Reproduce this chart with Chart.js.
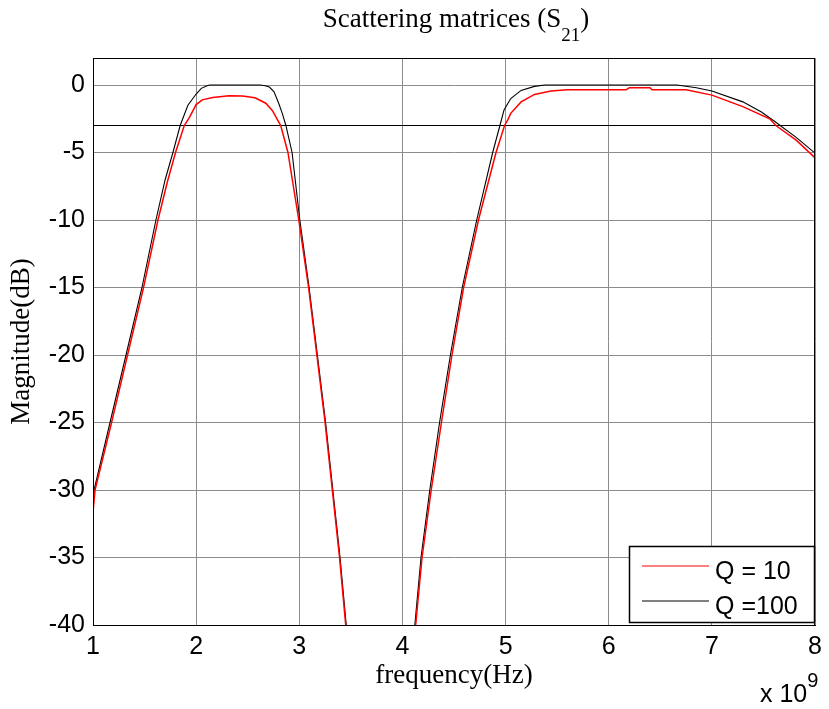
<!DOCTYPE html>
<html><head><meta charset="utf-8">
<script src="https://cdn.jsdelivr.net/npm/chart.js@4.4.0/dist/chart.umd.min.js"></script>
<style>
html,body{margin:0;padding:0;background:#fff;}
#wrap{position:relative;width:829px;height:709px;overflow:hidden;}
canvas{position:absolute;left:0;top:0;}
#title{position:absolute;left:0;width:912px;top:3px;text-align:center;font-family:"Liberation Serif","Times New Roman",serif;font-size:27px;line-height:30px;color:#000;white-space:nowrap;}
#title .sub{font-size:19px;position:relative;top:14px;}
#expo{position:absolute;left:760px;top:679px;font-family:"Liberation Sans",Arial,sans-serif;font-size:25px;line-height:28px;color:#000;white-space:nowrap;}
#expo .sup{font-size:20px;position:relative;top:-15px;}
</style></head>
<body><div id="wrap"><canvas id="c" width="829" height="709"></canvas>
<div id="title">Scattering matrices (S<span class="sub">21</span>)</div>
<div id="expo">x 10<span class="sup">9</span></div></div>
<script>
// ---- data (frequency in units of 1e9 Hz, magnitude in dB) ----
const xTicks = [1, 2, 3, 4, 5, 6, 7, 8];
const yTicks = [-40, -35, -30, -25, -20, -15, -10, -5, 0];
const xRange = [1, 8];
const yRange = [-40, 2];
const refLevel = -3;

const labels = ['Q = 10', 'Q =100'];
const colors = ['#ff0000', '#000000'];

const q10Freq = [1.00, 1.02, 1.18, 1.335, 1.49, 1.63, 1.72, 1.80, 1.885, 1.935, 2.00, 2.06, 2.16, 2.32, 2.45, 2.57, 2.675, 2.74, 2.79, 2.82, 2.89, 2.995, 3.09, 3.17, 3.25, 3.32, 3.39, 3.45, 3.50,
  3.80,
  4.07, 4.128, 4.19, 4.279, 4.378, 4.48, 4.593, 4.737, 4.907, 4.99, 5.02, 5.05, 5.15, 5.28, 5.44, 5.60, 6.17, 6.20, 6.40, 6.42, 6.75, 7.00, 7.30, 7.56, 7.62, 7.82, 8.00];
const q10Mag = [-31.6, -30, -25, -20, -15, -10, -7.2, -5, -3, -2.4, -1.45, -1.1, -0.92, -0.8, -0.82, -0.95, -1.35, -1.9, -2.6, -3.0, -5, -10, -15, -20, -25, -30, -35, -40, -44,
  null,
  -44, -40, -35, -30, -25, -20, -15, -10, -5, -3, -2.6, -2.1, -1.25, -0.7, -0.45, -0.35, -0.35, -0.2, -0.2, -0.35, -0.35, -0.75, -1.6, -2.5, -3.0, -4.1, -5.4];

const q100Freq = [1.00, 1.01, 1.165, 1.32, 1.475, 1.61, 1.70, 1.775, 1.845, 1.92, 2.00, 2.05, 2.10, 2.13, 2.62, 2.67, 2.71, 2.755, 2.80, 2.835, 2.87, 2.93, 3.005, 3.095, 3.175, 3.255, 3.325, 3.395, 3.455, 3.505,
  3.80,
  4.065, 4.12, 4.18, 4.265, 4.36, 4.465, 4.58, 4.72, 4.875, 4.945, 4.985, 5.05, 5.15, 5.28, 5.38, 6.66, 6.85, 7.00, 7.30, 7.48, 7.61, 7.82, 8.00];
const q100Mag = [-31.2, -30, -25, -20, -15, -10, -7.0, -5, -3, -1.5, -0.67, -0.25, -0.07, 0, 0, -0.05, -0.15, -0.5, -1.35, -2.1, -3, -5, -10, -15, -20, -25, -30, -35, -40, -44,
  null,
  -44, -40, -35, -30, -25, -20, -15, -10, -5, -3, -1.85, -1.0, -0.4, -0.1, 0, 0, -0.2, -0.45, -1.25, -2.0, -2.7, -3.9, -5.05];

const refFreq = [1, 8];
const refMag = [refLevel, refLevel];

const toPts = (xs, ys) => xs.map((x, i) => ({ x: x, y: ys[i] }));

const SANS = '"Liberation Sans", Arial, sans-serif';
const SERIF = '"Liberation Serif", "Times New Roman", serif';

const framePlugin = {
  id: 'frame',
  afterDatasetsDraw(chart) {
    const { ctx, chartArea: a } = chart;
    ctx.save();
    ctx.strokeStyle = '#000';
    ctx.lineWidth = 1;
    ctx.strokeRect(Math.round(a.left) + 0.5, Math.round(a.top) + 0.5, Math.round(a.right - a.left) - 1, Math.round(a.bottom - a.top));
    ctx.restore();
  }
};

const legendPlugin = {
  id: 'boxLegend',
  afterDraw(chart) {
    const { ctx, chartArea: a } = chart;
    const w = 186, h = 77;
    const L = Math.round(a.right - w), T = Math.round(a.bottom - 2 - h);
    ctx.save();
    ctx.fillStyle = '#fff';
    ctx.fillRect(L, T, w, h);
    ctx.strokeStyle = '#000';
    ctx.lineWidth = 1.5;
    ctx.strokeRect(L + 0.5, T + 0.5, w - 1, h - 1);
    labels.forEach((lab, i) => {
      const ly = T + 20 + i * 35;
      ctx.strokeStyle = colors[i];
      ctx.lineWidth = 1;
      ctx.beginPath();
      ctx.moveTo(L + 13, ly);
      ctx.lineTo(L + 80, ly);
      ctx.stroke();
      ctx.fillStyle = '#000';
      ctx.font = '25px ' + SANS;
      ctx.textBaseline = 'alphabetic';
      ctx.textAlign = 'left';
      ctx.fillText(lab, L + 86, T + 32.5 + i * 35);
    });
    ctx.restore();
  }
};

new Chart(document.getElementById('c'), {
  type: 'line',
  data: {
    datasets: [
      { label: labels[0], data: toPts(q10Freq, q10Mag), borderColor: colors[0], borderWidth: 1.5, pointRadius: 0, tension: 0, spanGaps: false, fill: false },
      { label: labels[1], data: toPts(q100Freq, q100Mag), borderColor: colors[1], borderWidth: 1.1, pointRadius: 0, tension: 0, spanGaps: false, fill: false },
      { label: '-3 dB', data: toPts(refFreq, refMag), borderColor: '#000000', borderWidth: 1, pointRadius: 0, tension: 0, fill: false }
    ]
  },
  options: {
    responsive: false,
    animation: false,
    devicePixelRatio: 1,
    layout: { padding: { top: 58, right: 10, bottom: 0, left: 0 } },
    plugins: { legend: { display: false }, tooltip: { enabled: false }, title: { display: false } },
    scales: {
      x: {
        type: 'linear', min: xRange[0], max: xRange[1],
        afterBuildTicks: s => { s.ticks = xTicks.map(v => ({ value: v })); },
        afterFit: s => { s.height = 84; },
        ticks: { font: { family: SANS, size: 25 }, color: '#000', padding: 7, maxRotation: 0, autoSkip: false, callback: v => String(v) },
        grid: { color: '#8c8c8c', lineWidth: 1, drawTicks: false },
        border: { display: true, color: '#000', width: 1 },
        title: { display: true, text: 'frequency(Hz)', font: { family: SERIF, size: 27 }, color: '#000', padding: { top: 0, bottom: 17 } }
      },
      y: {
        type: 'linear', min: yRange[0], max: yRange[1],
        afterBuildTicks: s => { s.ticks = yTicks.map(v => ({ value: v })); },
        afterFit: s => { s.width = 93; },
        ticks: { font: { family: SANS, size: 25 }, color: '#000', padding: 8, autoSkip: false, callback: v => String(v) },
        grid: { color: '#8c8c8c', lineWidth: 1, drawTicks: false },
        border: { display: true, color: '#000', width: 1 },
        title: { display: true, text: 'Magnitude(dB)', font: { family: SERIF, size: 27 }, color: '#000', padding: { top: 6, bottom: 0 } }
      }
    }
  },
  plugins: [framePlugin, legendPlugin]
});
</script>
</body></html>
